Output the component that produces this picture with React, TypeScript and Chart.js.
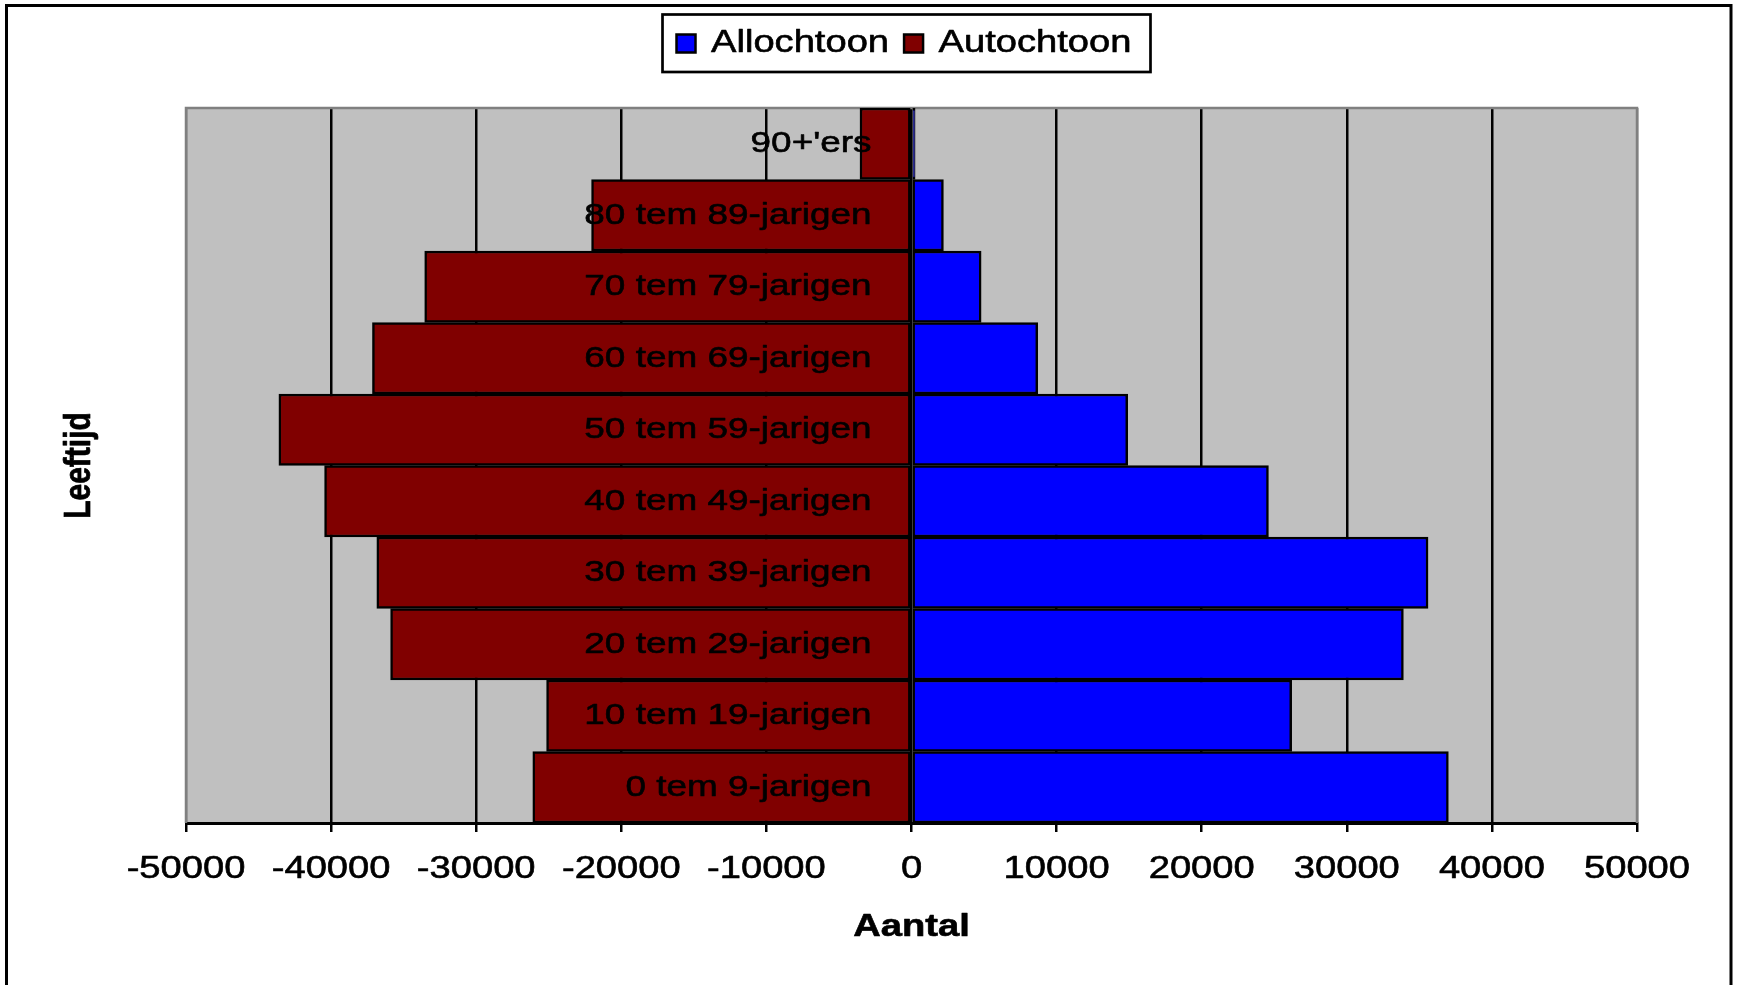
import React, { useEffect, useRef } from "react";
import { Chart, registerables } from "chart.js";

Chart.register(...registerables);

// ---- data (bottom row first) ----
const categories = [
  "0 tem 9-jarigen",
  "10 tem 19-jarigen",
  "20 tem 29-jarigen",
  "30 tem 39-jarigen",
  "40 tem 49-jarigen",
  "50 tem 59-jarigen",
  "60 tem 69-jarigen",
  "70 tem 79-jarigen",
  "80 tem 89-jarigen",
  "90+'ers",
];
const allochtoon = [37000, 26200, 33900, 35600, 24600, 14900, 8700, 4800, 2200, 250];
const autochtoon = [-26100, -25150, -35900, -36850, -40450, -43600, -37150, -33550, -22050, -3550];
const seriesNames = ["Allochtoon", "Autochtoon"];
const xMin = -50000;
const xMax = 50000;
const xStep = 10000;
const xTitle = "Aantal";
const yTitle = "Leeftijd";

const FONT = "'Liberation Sans', Arial, Helvetica, sans-serif";
// the reference text is horizontally stretched and slightly heavy
const SX = 1.23;
const TEXT_WEIGHT_STROKE = 0.6;

function stretchText(ctx: CanvasRenderingContext2D) {
  const anyCtx = ctx as any;
  if (anyCtx.__stretched) return;
  anyCtx.__stretched = true;
  const origFill = ctx.fillText.bind(ctx);
  const origStroke = ctx.strokeText.bind(ctx);
  const origMeasure = ctx.measureText.bind(ctx);
  anyCtx.fillText = (text: string, x: number, y: number, maxWidth?: number) => {
    const m = ctx.getTransform();
    const p = m.transformPoint(new DOMPoint(x, y));
    ctx.save();
    ctx.setTransform(
      new DOMMatrix().translate(p.x, p.y).scale(SX, 1).translate(-p.x, -p.y).multiply(m)
    );
    if (maxWidth === undefined || maxWidth === null) origFill(text, x, y);
    else origFill(text, x, y, maxWidth / SX);
    ctx.strokeStyle = ctx.fillStyle;
    ctx.lineWidth = TEXT_WEIGHT_STROKE;
    ctx.lineJoin = "round";
    ctx.setLineDash([]);
    if (maxWidth === undefined || maxWidth === null) origStroke(text, x, y);
    else origStroke(text, x, y, maxWidth / SX);
    ctx.restore();
  };
  anyCtx.measureText = (text: string) => {
    const r = origMeasure(text);
    return {
      width: r.width * SX,
      actualBoundingBoxAscent: r.actualBoundingBoxAscent,
      actualBoundingBoxDescent: r.actualBoundingBoxDescent,
      actualBoundingBoxLeft: r.actualBoundingBoxLeft * SX,
      actualBoundingBoxRight: r.actualBoundingBoxRight * SX,
      fontBoundingBoxAscent: r.fontBoundingBoxAscent,
      fontBoundingBoxDescent: r.fontBoundingBoxDescent,
    };
  };
}

const decor = {
  id: "decor",
  afterLayout(chart: any) {
    // the boxed legend sits slightly left of the plot centre
    const lg = chart.legend;
    if (lg) {
      lg.left -= 15;
      lg.width += 15;
    }
  },
  beforeDraw(chart: any) {
    const { ctx, chartArea: a, width, height } = chart;
    ctx.save();
    ctx.fillStyle = "#ffffff";
    ctx.fillRect(0, 0, width, height);
    ctx.strokeStyle = "#000000";
    ctx.lineWidth = 3;
    ctx.strokeRect(6.5, 5.5, width - 13.5, height + 20);
    ctx.fillStyle = "#c0c0c0";
    ctx.fillRect(a.left, a.top, a.right - a.left, a.bottom - a.top);
    ctx.restore();
  },
  beforeDatasetsDraw(chart: any) {
    const { ctx, chartArea: a } = chart;
    ctx.save();
    ctx.strokeStyle = "#808080";
    ctx.lineWidth = 2.5;
    ctx.beginPath();
    ctx.moveTo(a.left, a.bottom);
    ctx.lineTo(a.left, a.top);
    ctx.lineTo(a.right, a.top);
    ctx.lineTo(a.right, a.bottom);
    ctx.stroke();
    ctx.restore();
  },
  afterDatasetsDraw(chart: any) {
    const { ctx } = chart;
    const xs = chart.scales.x;
    const ys = chart.scales.y;
    ctx.save();
    ctx.font = `30px ${FONT}`;
    ctx.fillStyle = "#000000";
    ctx.textAlign = "right";
    ctx.textBaseline = "middle";
    const x0 = xs.getPixelForValue(0) - 40;
    (chart.data.labels as string[]).forEach((lab, i) => {
      ctx.fillText(lab, x0, ys.getPixelForValue(i));
    });
    ctx.restore();
  },
  afterDraw(chart: any) {
    const { ctx } = chart;
    const lg = chart.legend;
    if (!lg || !lg.legendHitBoxes || !lg.legendHitBoxes.length) return;
    const hb = lg.legendHitBoxes;
    const first = hb[0];
    const last = hb[hb.length - 1];
    const left = first.left - 14;
    const right = last.left + last.width + 19;
    const top = lg.top + 1.5;
    const bottom = lg.top + 59;
    ctx.save();
    ctx.strokeStyle = "#000000";
    ctx.lineWidth = 2.7;
    ctx.strokeRect(left, top, right - left, bottom - top);
    ctx.restore();
  },
};

export default function App() {
  const ref = useRef<HTMLCanvasElement>(null);
  useEffect(() => {
    document.body.style.margin = "0";
    Chart.defaults.font.family = FONT;
    Chart.defaults.color = "#000000";
    const canvas = ref.current as HTMLCanvasElement;
    const ctx2d = canvas.getContext("2d") as CanvasRenderingContext2D;
    stretchText(ctx2d);
    const edge = (v: number) => v === xMin || v === xMax;
    const chart = new Chart(canvas, {
      type: "bar",
      data: {
        labels: categories,
        datasets: [
          {
            label: seriesNames[0],
            data: allochtoon,
            backgroundColor: "#0000ff",
            borderColor: "#000000",
            borderWidth: 2.5,
            borderSkipped: false,
            categoryPercentage: 1,
            barPercentage: 1,
          },
          {
            label: seriesNames[1],
            data: autochtoon,
            backgroundColor: "#800000",
            borderColor: "#000000",
            borderWidth: 2.5,
            borderSkipped: false,
            categoryPercentage: 1,
            barPercentage: 1,
          },
        ],
      },
      options: {
        indexAxis: "y",
        responsive: false,
        animation: false,
        devicePixelRatio: 1,
        layout: { padding: { top: 13, left: 0, right: 101, bottom: 22 } },
        plugins: {
          legend: {
            display: true,
            position: "top",
            fullSize: false,
            labels: {
              font: { size: 31, family: FONT },
              color: "#000000",
              boxWidth: 19,
              boxHeight: 18,
              padding: 15,
            },
          },
          tooltip: { enabled: false },
          title: { display: false },
        },
        scales: {
          x: {
            type: "linear",
            axis: "x",
            position: "bottom",
            min: xMin,
            max: xMax,
            stacked: true,
            ticks: {
              stepSize: xStep,
              callback: (v: any) => String(v),
              font: { size: 31, family: FONT },
              color: "#000000",
              padding: 19,
              maxRotation: 0,
              autoSkip: false,
            },
            grid: {
              color: (c: any) => (c.tick && edge(c.tick.value) ? "#808080" : "#000000"),
              lineWidth: 2.5,
              tickColor: "#000000",
              tickWidth: 2.5,
              tickLength: 9,
              drawTicks: true,
            },
            border: { display: true, color: "#000000", width: 3 },
            title: {
              display: true,
              text: xTitle,
              font: { size: 31, weight: "bold", family: FONT },
              color: "#000000",
              padding: { top: 0, bottom: 17 },
            },
            afterFit: (s: any) => {
              s.height = 140;
            },
          },
          xTop: {
            type: "linear",
            axis: "x",
            position: "top",
            display: true,
            grid: { display: false },
            border: { display: false },
            ticks: { display: false },
            afterFit: (s: any) => {
              s.height = 39;
            },
          },
          y: {
            type: "category",
            stacked: true,
            reverse: true,
            grid: { display: false },
            border: { display: false },
            ticks: { display: false },
            title: {
              display: true,
              text: yTitle,
              font: { size: 30, weight: "bold", family: FONT },
              color: "#000000",
              padding: { top: 62, bottom: 0 },
            },
            afterFit: (s: any) => {
              s.width = 186;
            },
          },
        },
      } as any,
      plugins: [decor as any],
    });
    return () => chart.destroy();
  }, []);
  return (
    <div style={{ width: 1738, height: 985 }}>
      <canvas ref={ref} width={1738} height={985} style={{ display: "block" }} />
    </div>
  );
}
